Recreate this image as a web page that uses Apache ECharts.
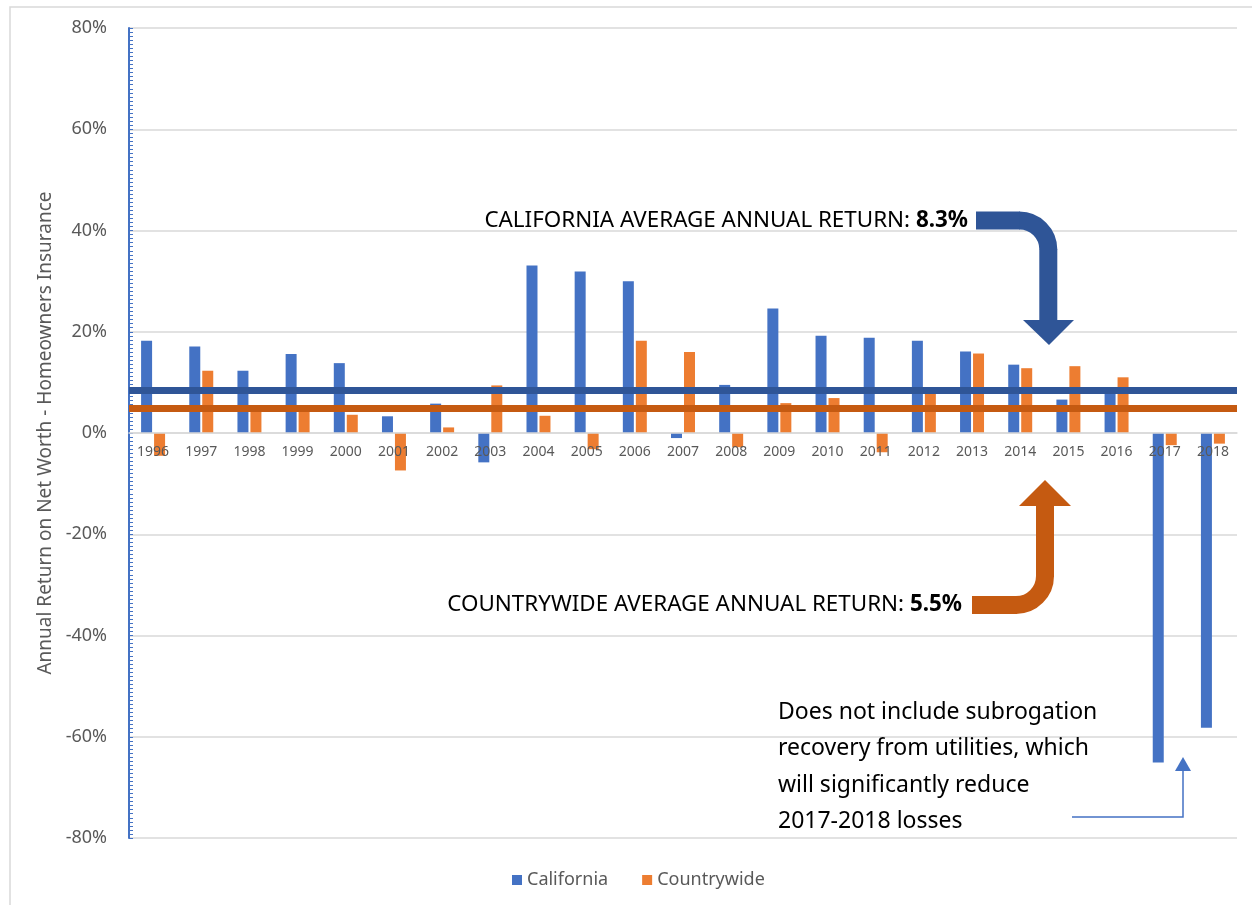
<!DOCTYPE html>
<html>
<head>
<meta charset="utf-8">
<script src="https://cdn.jsdelivr.net/npm/echarts@6/dist/echarts.min.js"></script>
<style>
html,body{margin:0;padding:0;background:#fff;}
#chart{width:1252px;height:905px;}
</style>
</head>
<body>
<div id="chart"></div>
<script>
// ---- Data ----
const years = ['1996','1997','1998','1999','2000','2001','2002','2003','2004','2005','2006','2007','2008','2009','2010','2011','2012','2013','2014','2015','2016','2017','2018'];
const california = [18.2, 17.1, 12.3, 15.6, 13.8, 3.3, 5.8, -5.8, 33.1, 31.9, 30.0, -1.0, 9.5, 24.6, 19.2, 18.8, 18.2, 16.1, 13.5, 6.6, 8.2, -65.1, -58.2];
const countrywide = [-4.5, 12.3, 5.0, 4.8, 3.6, -7.4, 1.1, 9.4, 3.4, -3.2, 18.2, 16.0, -2.8, 5.9, 6.9, -3.8, 8.0, 15.7, 12.8, 13.2, 11.0, -2.4, -2.1];
const averageLines = [8.4, 4.8]; // drawn positions of California / Countrywide average lines
const yTicks = [-80, -60, -40, -20, 0, 20, 40, 60, 80];
const seriesNames = ['California', 'Countrywide'];
const noteLines = ['Does not include subrogation', 'recovery from utilities, which', 'will significantly reduce', '2017-2018 losses'];

const C_BLUE = '#4472C4', C_ORANGE = '#ED7D31', C_DBLUE = '#2F5597', C_DORANGE = '#C55A11';
const FONT = "'Noto Sans', 'Open Sans', sans-serif";
const NARROW = "'Noto Sans', sans-serif";

const chart = echarts.init(document.getElementById('chart'), null, {renderer: 'canvas'});

const noteGraphics = noteLines.map((t, i) => ({
  type: 'text', x: 778, y: 712 + i * 36.5, z: 100,
  style: {text: t, fill: '#000', font: "23px " + FONT, verticalAlign: 'middle', align: 'left'}
}));

const option = {
  animation: false,
  backgroundColor: '#fff',
  grid: {left: 129, right: 15, top: 28, bottom: 67, containLabel: false},
  legend: {
    data: seriesNames, bottom: 11, left: 507, icon: 'rect', itemWidth: 10, itemHeight: 10, itemGap: 34,
    textStyle: {color: '#595959', fontSize: 18, fontFamily: FONT}
  },
  xAxis: {
    type: 'category', data: years, zlevel: 1, z: 5, position: 'bottom', offset: 0,
    axisLine: {onZero: false, lineStyle: {color: '#d9d9d9', width: 1.5}},
    axisTick: {show: false},
    axisLabel: {color: '#595959', fontSize: 14, fontFamily: FONT, margin: 12, interval: 0}
  },
  yAxis: {
    type: 'value', min: -80, max: 80, interval: 20,
    name: 'Annual Return on Net Worth - Homeowners Insurance',
    nameLocation: 'middle', nameGap: 73, nameRotate: 90,
    nameTextStyle: {color: '#595959', fontSize: 19, fontFamily: FONT},
    axisLine: {show: true, lineStyle: {color: C_BLUE, width: 2}},
    axisTick: {show: true, inside: true, length: 4, lineStyle: {color: C_BLUE}},
    minorTick: {show: true, splitNumber: 25, length: 4, lineStyle: {color: C_BLUE}},
    axisLabel: {color: '#595959', fontSize: 18, fontFamily: FONT, margin: 22,
      formatter: v => yTicks.includes(v) ? v + '%' : ''},
    splitLine: {lineStyle: {color: '#d9d9d9', width: 1.5}}
  },
  series: [
    {
      name: seriesNames[0], type: 'bar', data: california, barWidth: 11, barGap: '18%',
      itemStyle: {color: C_BLUE}
    },
    {
      name: seriesNames[1], type: 'bar', data: countrywide, barWidth: 11, barGap: '18%',
      itemStyle: {color: C_ORANGE},
      markLine: {
        silent: true, symbol: 'none', label: {show: false}, z: 10,
        data: [
          {yAxis: averageLines[0], lineStyle: {color: C_DBLUE, width: 7, type: 'solid'}},
          {yAxis: averageLines[1], lineStyle: {color: C_DORANGE, width: 7, type: 'solid'}}
        ]
      }
    }
  ],
  graphic: [
    {type: 'rect', shape: {x: 10, y: 7, width: 1260, height: 920}, style: {fill: 'none', stroke: '#d9d9d9', lineWidth: 1.5}, z: -1, silent: true},
    // California annotation
    {type: 'text', x: 968, y: 221, z: 100, style: {
      text: '{a|CALIFORNIA AVERAGE ANNUAL RETURN: }{b|8.3%}', align: 'right', verticalAlign: 'middle',
      rich: {a: {font: "22.4px " + NARROW, fill: '#000'}, b: {font: "bold 22.4px " + NARROW, fill: '#000'}}
    }},
    {type: 'rect', z: 100, shape: {x: 976, y: 211.5, width: 44, height: 18}, style: {fill: C_DBLUE}},
    {type: 'arc', z: 100, shape: {cx: 1019.3, cy: 249.5, r: 29, startAngle: -Math.PI / 2, endAngle: 0, clockwise: true}, style: {stroke: C_DBLUE, lineWidth: 18, fill: 'none'}},
    {type: 'rect', z: 100, shape: {x: 1039.3, y: 249, width: 18, height: 72}, style: {fill: C_DBLUE}},
    {type: 'polygon', z: 100, shape: {points: [[1023, 320], [1074, 320], [1049, 345]]}, style: {fill: C_DBLUE}},
    // Countrywide annotation
    {type: 'text', x: 962, y: 605, z: 100, style: {
      text: '{a|COUNTRYWIDE AVERAGE ANNUAL RETURN: }{b|5.5%}', align: 'right', verticalAlign: 'middle',
      rich: {a: {font: "22.4px " + NARROW, fill: '#000'}, b: {font: "bold 22.4px " + NARROW, fill: '#000'}}
    }},
    {type: 'rect', z: 100, shape: {x: 972, y: 596, width: 45, height: 18}, style: {fill: C_DORANGE}},
    {type: 'arc', z: 100, shape: {cx: 1016, cy: 576, r: 29, startAngle: 0, endAngle: Math.PI / 2, clockwise: true}, style: {stroke: C_DORANGE, lineWidth: 18, fill: 'none'}},
    {type: 'rect', z: 100, shape: {x: 1036, y: 505, width: 18, height: 72}, style: {fill: C_DORANGE}},
    {type: 'polygon', z: 100, shape: {points: [[1019, 506], [1071, 506], [1045, 480]]}, style: {fill: C_DORANGE}},
    // note with thin arrow
    ...noteGraphics,
    {type: 'polyline', z: 100, shape: {points: [[1072, 817], [1183, 817], [1183, 770]]}, style: {stroke: C_BLUE, lineWidth: 1.5, fill: 'none'}},
    {type: 'polygon', z: 100, shape: {points: [[1175, 771], [1191, 771], [1183, 757]]}, style: {fill: C_BLUE}}
  ]
};
chart.setOption(option);
// Move the category axis (line + labels) up to the zero value of the y scale
const yBottom = chart.convertToPixel({yAxisIndex: 0}, -80);
const yZero = chart.convertToPixel({yAxisIndex: 0}, 0);
chart.setOption({xAxis: {offset: -(yBottom - yZero)}});
</script>
</body>
</html>
